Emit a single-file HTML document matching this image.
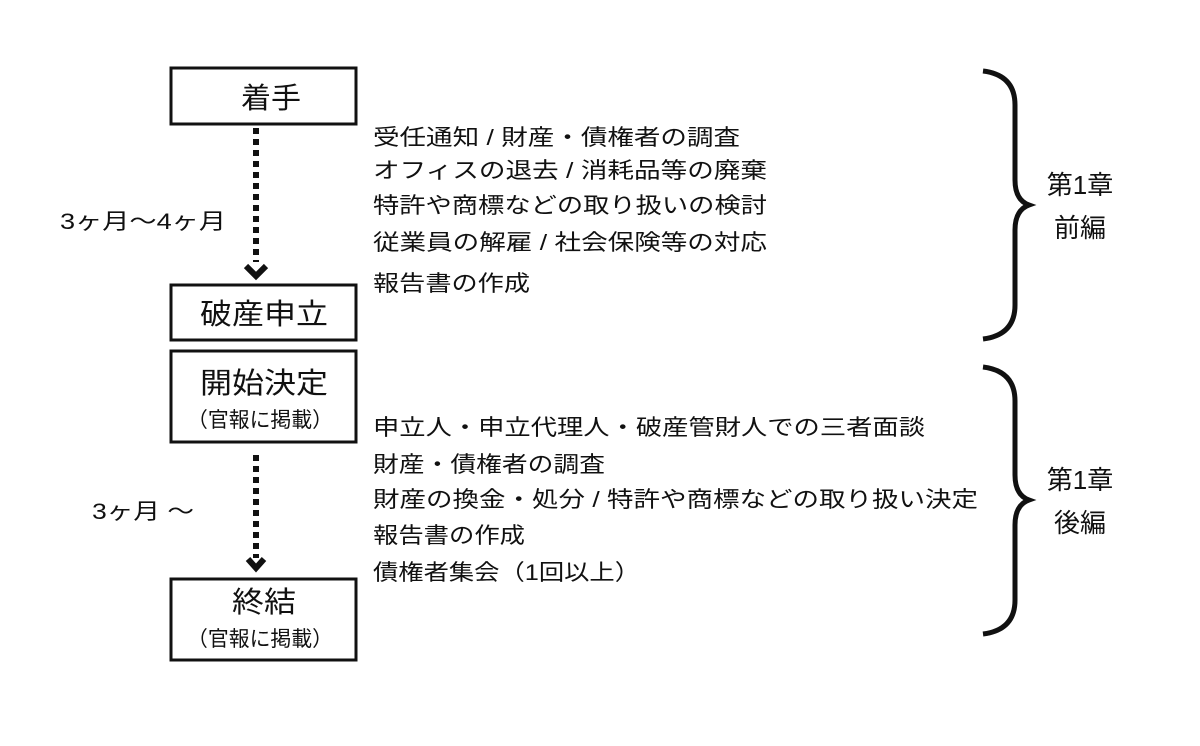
<!DOCTYPE html>
<html><head><meta charset="utf-8"><style>
html,body{margin:0;padding:0;background:#fff;}
svg text{font-family:"Liberation Sans","Noto Sans CJK JP",sans-serif;fill:#111;}
</style></head><body>
<svg width="1200" height="741" viewBox="0 0 1200 741" xmlns="http://www.w3.org/2000/svg">
<rect width="1200" height="741" fill="#fff"/>
<g fill="none" stroke="#111" stroke-width="3">
<rect x="171" y="68" width="185" height="56"/>
<rect x="171" y="285" width="185" height="55"/>
<rect x="171" y="351" width="185" height="91"/>
<rect x="171" y="579" width="185" height="81"/>
</g>
<g stroke="#111" stroke-width="6" stroke-dasharray="6,5" fill="none">
<line x1="256" y1="128" x2="256" y2="262"/>
<line x1="256" y1="455" x2="256" y2="558"/>
</g>
<g stroke="#111" stroke-width="6" fill="none" stroke-linejoin="miter">
<polyline points="246,266 256,276 266,266"/>
<polyline points="248,559 256,568 264,559"/>
</g>
<g font-size="29">
<text x="241" y="108" textLength="60" lengthAdjust="spacingAndGlyphs">着手</text>
<text x="200" y="324" textLength="128" lengthAdjust="spacingAndGlyphs">破産申立</text>
<text x="200" y="393" textLength="128" lengthAdjust="spacingAndGlyphs">開始決定</text>
<text x="232" y="612" textLength="64" lengthAdjust="spacingAndGlyphs">終結</text>
<text x="187" y="427" font-size="21" textLength="146" lengthAdjust="spacingAndGlyphs">（官報に掲載）</text>
<text x="187" y="646" font-size="21" textLength="146" lengthAdjust="spacingAndGlyphs">（官報に掲載）</text>
</g>
<text x="60" y="229" font-size="22" textLength="166" lengthAdjust="spacingAndGlyphs">3ヶ月〜4ヶ月</text>
<text x="92" y="519" font-size="22" textLength="102" lengthAdjust="spacingAndGlyphs">3ヶ月 〜</text>
<g font-size="22">
<text x="373" y="145" textLength="367" lengthAdjust="spacingAndGlyphs">受任通知 / 財産・債権者の調査</text>
<text x="373" y="178" textLength="394" lengthAdjust="spacingAndGlyphs">オフィスの退去 / 消耗品等の廃棄</text>
<text x="373" y="213" textLength="394" lengthAdjust="spacingAndGlyphs">特許や商標などの取り扱いの検討</text>
<text x="373" y="250" textLength="394" lengthAdjust="spacingAndGlyphs">従業員の解雇 / 社会保険等の対応</text>
<text x="373" y="291" textLength="157" lengthAdjust="spacingAndGlyphs">報告書の作成</text>
<text x="373" y="435" textLength="552" lengthAdjust="spacingAndGlyphs">申立人・申立代理人・破産管財人での三者面談</text>
<text x="373" y="472" textLength="232" lengthAdjust="spacingAndGlyphs">財産・債権者の調査</text>
<text x="373" y="507" textLength="605" lengthAdjust="spacingAndGlyphs">財産の換金・処分 / 特許や商標などの取り扱い決定</text>
<text x="373" y="543" textLength="152" lengthAdjust="spacingAndGlyphs">報告書の作成</text>
<text x="373" y="580" textLength="267" lengthAdjust="spacingAndGlyphs">債権者集会（1回以上）</text>
</g>
<g fill="none" stroke="#111" stroke-width="5">
<path d="M983,71 Q1015,75 1015,105 L1015,180 Q1015,200 1029,205 Q1015,210 1015,230 L1015,305 Q1015,335 983,339"/>
<path d="M983,367 Q1015,371 1015,401 L1015,475 Q1015,495 1029,500 Q1015,505 1015,525 L1015,600 Q1015,630 983,634"/>
</g>
<g font-size="26" text-anchor="middle">
<text x="1080" y="194">第1章</text>
<text x="1080" y="237">前編</text>
<text x="1080" y="489">第1章</text>
<text x="1080" y="532">後編</text>
</g>
</svg>
</body></html>
